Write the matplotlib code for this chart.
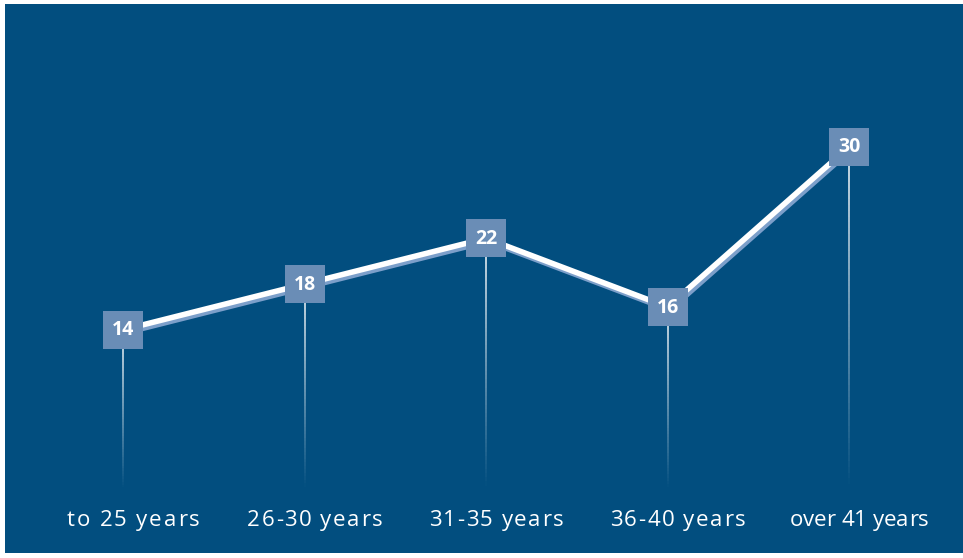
import numpy as np
import matplotlib
matplotlib.use("Agg")
import matplotlib.pyplot as plt
import matplotlib.transforms as mtransforms
from matplotlib.collections import LineCollection
from matplotlib.patches import Rectangle
from matplotlib.font_manager import FontProperties

# Data
categories = ["to 25 years", "26-30 years", "31-35 years", "36-40 years", "over 41 years"]
values = [14, 18, 22, 16, 30]

# letter spacing (px) of each category label, as in the original
label_spacing = [1.9, 1.55, 1.55, 1.55, 0.0]

BG = "#024e7f"
BOX = "#6a8db6"
SHADOW = "#7c9fca"

plt.rcParams["font.family"] = ["Open Sans", "DejaVu Sans"]

fig = plt.figure(figsize=(9.63, 5.58), dpi=100)
fig.patch.set_facecolor("white")

ax = fig.add_axes([0, 0, 1, 1])
ax.set_facecolor("none")
ax.set_xlim(-0.678, 4.628)
ax.set_ylim(-5.944, 42.83)
ax.axis("off")

# blue panel with thin white margin
ax.add_patch(Rectangle((5 / 963, 5 / 558), 958 / 963, 549 / 558,
                       transform=fig.transFigure, facecolor=BG,
                       edgecolor="none", zorder=0, clip_on=False))

x = np.arange(len(categories))

# fading drop lines from each point down to zero
for xi, v in zip(x, values):
    ys = np.linspace(v, 0, 60)
    segs = [[(xi, ys[i]), (xi, ys[i + 1])] for i in range(len(ys) - 1)]
    alphas = np.linspace(0.95, 0.0, len(segs))
    cols = [(1, 1, 1, a) for a in alphas]
    ax.add_collection(LineCollection(segs, colors=cols, linewidths=1.2, zorder=1))

# shadow line then main line
shadow_tr = mtransforms.offset_copy(ax.transData, fig=fig, x=2, y=-3, units="dots")
ax.plot(x, values, color=SHADOW, lw=4, transform=shadow_tr, zorder=2,
        solid_capstyle="butt")
ax.plot(x, values, color="white", lw=4, zorder=3, solid_capstyle="butt")

# value boxes (40 x 37 px)
box = [(-1, -0.925), (1, -0.925), (1, 0.925), (-1, 0.925), (-1, -0.925)]
ax.scatter(x, values, marker=box, s=830, color=BOX, zorder=4, linewidths=0)
for xi, v in zip(x, values):
    ax.text(xi, v - 0.05, str(v), color="white", fontsize=14, fontweight="bold",
            ha="center", va="center", zorder=5)

# category labels, drawn char by char to get the letter spacing
fig.canvas.draw()
renderer = fig.canvas.get_renderer()
fp = FontProperties(family=["Open Sans", "DejaVu Sans"], size=16)


def text_w(s):
    w, _, _ = renderer.get_text_width_height_descent(s, fp, ismath=False)
    return w


bar_w = text_w("|")
base_y = 558 - 526
for xi, c, sp in zip(x, categories, label_spacing):
    cx = ax.transData.transform((xi, 0))[0] + 10
    total = text_w(c) + sp * (len(c) - 1)
    x0 = cx - total / 2
    for i, ch in enumerate(c):
        if ch == " ":
            continue
        px = x0 + text_w(c[:i] + "|") - bar_w + i * sp
        ax.text(px, base_y, ch, fontproperties=fp, color="white",
                ha="left", va="baseline",
                transform=mtransforms.IdentityTransform())

fig.savefig("out.png", dpi=100)
